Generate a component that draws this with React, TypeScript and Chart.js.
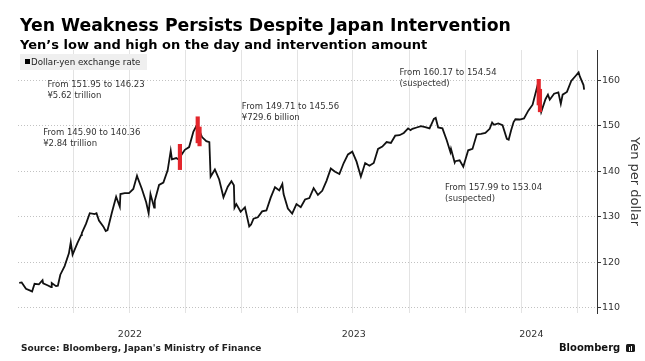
import React, { useEffect, useRef } from "react";
import { Chart, registerables } from "chart.js";

Chart.register(...registerables);

const FONT = "'DejaVu Sans', Verdana, sans-serif";

// Dollar-yen exchange rate (yen per dollar)
const rateDates = [
  "2022-01-03", "2022-01-07", "2022-01-14", "2022-01-21", "2022-01-24", "2022-01-28",
  "2022-02-04", "2022-02-10", "2022-02-11", "2022-02-18", "2022-02-24", "2022-02-25",
  "2022-03-04", "2022-03-07", "2022-03-11", "2022-03-18", "2022-03-25", "2022-03-28", "2022-03-31",
  "2022-04-08", "2022-04-14", "2022-04-15", "2022-04-22", "2022-04-28",
  "2022-05-06", "2022-05-09", "2022-05-13", "2022-05-20", "2022-05-24", "2022-05-27",
  "2022-06-03", "2022-06-10", "2022-06-16", "2022-06-17", "2022-06-24",
  "2022-07-01", "2022-07-08", "2022-07-14", "2022-07-15", "2022-07-22", "2022-07-29",
  "2022-08-02", "2022-08-05", "2022-08-11", "2022-08-12", "2022-08-19", "2022-08-26",
  "2022-09-02", "2022-09-07", "2022-09-09", "2022-09-16", "2022-09-22", "2022-09-23", "2022-09-30",
  "2022-10-07", "2022-10-14", "2022-10-20", "2022-10-24", "2022-10-28",
  "2022-11-04", "2022-11-09", "2022-11-11", "2022-11-18", "2022-11-25",
  "2022-12-02", "2022-12-09", "2022-12-15", "2022-12-19", "2022-12-20", "2022-12-23", "2022-12-30",
  "2023-01-06", "2023-01-13", "2023-01-16", "2023-01-20", "2023-01-27",
  "2023-02-03", "2023-02-10", "2023-02-17", "2023-02-24",
  "2023-03-03", "2023-03-08", "2023-03-10", "2023-03-17", "2023-03-24", "2023-03-31",
  "2023-04-07", "2023-04-14", "2023-04-21", "2023-04-28",
  "2023-05-05", "2023-05-12", "2023-05-19", "2023-05-26",
  "2023-06-02", "2023-06-09", "2023-06-16", "2023-06-23", "2023-06-30",
  "2023-07-07", "2023-07-14", "2023-07-21", "2023-07-28",
  "2023-08-04", "2023-08-11", "2023-08-18", "2023-08-25",
  "2023-09-01", "2023-09-08", "2023-09-15", "2023-09-22", "2023-09-29",
  "2023-10-03", "2023-10-06", "2023-10-13", "2023-10-20", "2023-10-27",
  "2023-11-03", "2023-11-10", "2023-11-13", "2023-11-17", "2023-11-24",
  "2023-12-01", "2023-12-07", "2023-12-08", "2023-12-14", "2023-12-15", "2023-12-22", "2023-12-28",
  "2024-01-05", "2024-01-12", "2024-01-19", "2024-01-26",
  "2024-02-02", "2024-02-09", "2024-02-13", "2024-02-16", "2024-02-23",
  "2024-03-01", "2024-03-08", "2024-03-11", "2024-03-15", "2024-03-19", "2024-03-22", "2024-03-29",
  "2024-04-05", "2024-04-12", "2024-04-19", "2024-04-26", "2024-04-29",
  "2024-05-03", "2024-05-10", "2024-05-14", "2024-05-17", "2024-05-24", "2024-05-31",
  "2024-06-04", "2024-06-07", "2024-06-14", "2024-06-21", "2024-06-28",
  "2024-07-03", "2024-07-05", "2024-07-11", "2024-07-12",
];
const rateValues = [
  115.5, 115.6, 114.2, 113.8, 113.6, 115.3,
  115.2, 116.1, 115.4, 115.0, 114.6, 115.5,
  114.8, 114.9, 117.3, 119.2, 122.0, 124.4, 121.7,
  124.3, 126.0, 126.4, 128.5, 130.8,
  130.6, 130.8, 129.2, 127.9, 126.9, 127.1,
  130.9, 134.4, 132.2, 135.0, 135.2,
  135.2, 136.1, 139.0, 138.6, 136.1, 133.2,
  130.8, 135.0, 132.0, 133.5, 137.0, 137.5,
  140.2, 144.5, 142.6, 142.9, 142.4, 143.3, 144.7,
  145.3, 148.7, 150.2, 148.8, 147.5,
  146.6, 146.4, 138.8, 140.4, 138.2,
  134.3, 136.6, 137.8, 136.9, 132.0, 132.8, 131.1,
  132.1, 127.9, 128.3, 129.6, 129.9,
  131.2, 131.4, 134.2, 136.5,
  135.8, 137.2, 135.0, 131.8, 130.7, 132.8,
  132.1, 133.8, 134.1, 136.3,
  134.8, 135.7, 137.9, 140.6,
  139.9, 139.4, 141.8, 143.7, 144.3,
  142.1, 138.8, 141.8, 141.2,
  141.8, 144.9, 145.4, 146.4,
  146.2, 147.8, 147.9, 148.4, 149.4,
  149.0, 149.3, 149.6, 149.9, 149.7,
  149.4, 151.5, 151.7, 149.6, 149.4,
  146.8, 144.2, 144.9, 141.9, 142.2, 142.4, 141.0,
  144.6, 144.9, 148.1, 148.2,
  148.4, 149.3, 150.7, 150.2, 150.5,
  150.1, 147.1, 146.9, 149.0, 150.8, 151.4, 151.35,
  151.6, 153.3, 154.6, 158.3, 156.2,
  153.0, 155.8, 156.8, 155.7, 157.0, 157.3,
  154.8, 156.8, 157.4, 159.8, 160.9,
  161.7, 160.8, 158.9, 157.9,
];

// Intervention days: the day's high and low
const interventionDates = ["2022-09-22", "2022-10-21", "2022-10-24", "2024-04-29", "2024-05-01"];
const interventionHighs = [145.90, 151.95, 149.71, 160.17, 157.99];
const interventionLows = [140.36, 146.23, 145.56, 154.54, 153.04];

// Annotation texts and their anchors (date, yen level)
const annotationLines = [
  ["From 151.95 to 146.23", "¥5.62 trillion"],
  ["From 145.90 to 140.36", "¥2.84 trillion"],
  ["From 149.71 to 145.56", "¥729.6 billion"],
  ["From 157.99 to 153.04", "(suspected)"],
  ["From 160.17 to 154.54", "(suspected)"],
];
const annotationDates = ["2022-02-18", "2022-02-11", "2023-01-01", "2023-11-28", "2023-09-15"];
const annotationValues = [158.9, 148.4, 154.15, 136.4, 161.6];

// Axis ticks
const yTicks = [110, 120, 130, 140, 150, 160];
const yearLabels = ["2022", "2023", "2024"];
const quarterGridDates = [
  "2022-04-01", "2022-07-01", "2022-10-01", "2023-01-01", "2023-04-01",
  "2023-07-01", "2023-10-01", "2024-01-01", "2024-04-01", "2024-07-01",
];
const axisStartDate = "2022-01-01";
const axisEndDate = "2024-08-02";
const yMin = 108.9;
const yMax = 166.6;

const BASE = Date.UTC(2022, 0, 1);
function dayOf(s: string): number {
  const [y, m, d] = s.split("-").map(Number);
  return (Date.UTC(y, m - 1, d) - BASE) / 86400000;
}

export default function App() {
  const canvasRef = useRef<HTMLCanvasElement | null>(null);

  useEffect(() => {
    const minDay = dayOf(axisStartDate);
    const maxDay = dayOf(axisEndDate);
    const quarterDays = quarterGridDates.map(dayOf);
    const yearCenters = yearLabels.map((y) => {
      const s = Math.max(dayOf(`${y}-01-01`), minDay);
      const e = Math.min(dayOf(`${Number(y) + 1}-01-01`), maxDay);
      return (s + e) / 2;
    });

    const lineData = rateDates.map((d, i) => ({ x: dayOf(d), y: rateValues[i] }));
    const barData = interventionDates.map((d, i) => ({
      x: dayOf(d),
      y: [interventionLows[i], interventionHighs[i]],
    }));

    const annotationPlugin = {
      id: "textAnnotations",
      afterDatasetsDraw(chart: any) {
        const { ctx, scales } = chart;
        const xs = scales.x;
        const ys = scales.y;
        ctx.save();
        ctx.font = `8.5px ${FONT}`;
        ctx.fillStyle = "#333";
        ctx.textAlign = "left";
        ctx.textBaseline = "middle";
        annotationLines.forEach((lines, i) => {
          const px = xs.getPixelForValue(dayOf(annotationDates[i]));
          const py = ys.getPixelForValue(annotationValues[i]);
          lines.forEach((t, j) => ctx.fillText(t, px, py + j * 10.7));
        });
        ctx.restore();
      },
    };

    const chart = new Chart(canvasRef.current as HTMLCanvasElement, {
      type: "line",
      data: {
        datasets: [
          {
            type: "bar",
            label: "Intervention",
            data: barData as any,
            backgroundColor: "#e3262c",
            barThickness: 3.5,
            xAxisID: "x",
            yAxisID: "y",
            order: 0,
          } as any,
          {
            type: "line",
            label: "Dollar-yen exchange rate",
            data: lineData,
            borderColor: "#111",
            borderWidth: 1.8,
            pointRadius: 0,
            tension: 0,
            xAxisID: "x",
            yAxisID: "y",
            order: 1,
          } as any,
        ],
      },
      options: {
        animation: false,
        responsive: true,
        maintainAspectRatio: false,
        layout: { padding: { left: 18, top: 50, right: 0, bottom: 20 } },
        plugins: {
          legend: { display: false },
          tooltip: { enabled: false },
        },
        scales: {
          x: {
            type: "linear",
            position: "bottom",
            min: minDay,
            max: maxDay,
            offset: false,
            grid: { color: "#e3e3e3", lineWidth: 1, drawTicks: false, offset: false },
            border: { display: false },
            ticks: { display: false },
            afterBuildTicks: (s: any) => {
              s.ticks = quarterDays.map((v) => ({ value: v }));
            },
            afterFit: (s: any) => {
              s.height = 0;
            },
          },
          x2: {
            type: "linear",
            position: "bottom",
            min: minDay,
            max: maxDay,
            offset: false,
            grid: { display: false, drawTicks: false },
            border: { display: false },
            ticks: {
              padding: 16,
              autoSkip: false,
              maxRotation: 0,
              font: { family: FONT, size: 9.5 },
              color: "#333",
              callback: (_v: any, i: number) => yearLabels[i],
            },
            afterBuildTicks: (s: any) => {
              s.ticks = yearCenters.map((v) => ({ value: v }));
            },
            afterFit: (s: any) => {
              s.height = 28;
            },
          },
          y: {
            type: "linear",
            position: "right",
            min: yMin,
            max: yMax,
            grid: {
              color: "#c2c2c2",
              lineWidth: 1,
              drawTicks: true,
              tickLength: 4,
              tickColor: "#333",
              tickWidth: 1,
            },
            border: { display: true, color: "#333", width: 1, dash: [1, 2] },
            ticks: {
              padding: 1,
              font: { family: FONT, size: 9.5 },
              color: "#333",
              callback: (v: any) => String(v),
            },
            afterBuildTicks: (s: any) => {
              s.ticks = yTicks.map((v) => ({ value: v }));
            },
            title: {
              display: true,
              text: "Yen per dollar",
              font: { family: FONT, size: 13 },
              color: "#333",
              padding: { top: 3, bottom: 0 },
            },
            afterFit: (s: any) => {
              s.width = 48;
            },
          },
        } as any,
      },
      plugins: [annotationPlugin],
    });
    return () => chart.destroy();
  }, []);

  const abs = (o: React.CSSProperties): React.CSSProperties => ({
    position: "absolute",
    whiteSpace: "nowrap",
    fontFamily: FONT,
    ...o,
  });

  return (
    <div
      style={{
        position: "fixed",
        left: 0,
        top: 0,
        width: 645,
        height: 361,
        background: "#fff",
        overflow: "hidden",
      }}
    >
      <div style={{ position: "absolute", left: 0, top: 0, width: 645, height: 361 }}>
        <canvas ref={canvasRef} />
      </div>
      <div style={abs({ left: 20, top: 16.9, fontSize: 17.3, fontWeight: "bold", lineHeight: 1, color: "#000" })}>
        Yen Weakness Persists Despite Japan Intervention
      </div>
      <div style={abs({ left: 20, top: 37.5, fontSize: 13, fontWeight: "bold", lineHeight: 1, color: "#000" })}>
        Yen’s low and high on the day and intervention amount
      </div>
      <div style={abs({ left: 20, top: 54, width: 127, height: 16, background: "#efefef" })}>
        <div style={abs({ left: 5, top: 4.5, width: 5, height: 5, background: "#000" })} />
        <div style={abs({ left: 11, top: 3.5, fontSize: 8.7, lineHeight: 1, color: "#222" })}>
          Dollar-yen exchange rate
        </div>
      </div>
      <div style={abs({ left: 21, top: 343.9, fontSize: 9, fontWeight: "bold", lineHeight: 1, color: "#222" })}>
        Source: Bloomberg, Japan's Ministry of Finance
      </div>
      <div style={abs({ left: 559, top: 342.5, fontSize: 10, fontWeight: "bold", lineHeight: 1, color: "#111" })}>
        Bloomberg
      </div>
      <div style={abs({ left: 626, top: 343.5, width: 9, height: 8.5, background: "#1a1a1a", borderRadius: 1.5 })}>
        <div style={abs({ left: 2.5, top: 3.5, width: 1.2, height: 3.5, background: "#fff" })} />
        <div style={abs({ left: 5, top: 2, width: 1.2, height: 5, background: "#fff" })} />
      </div>
    </div>
  );
}
